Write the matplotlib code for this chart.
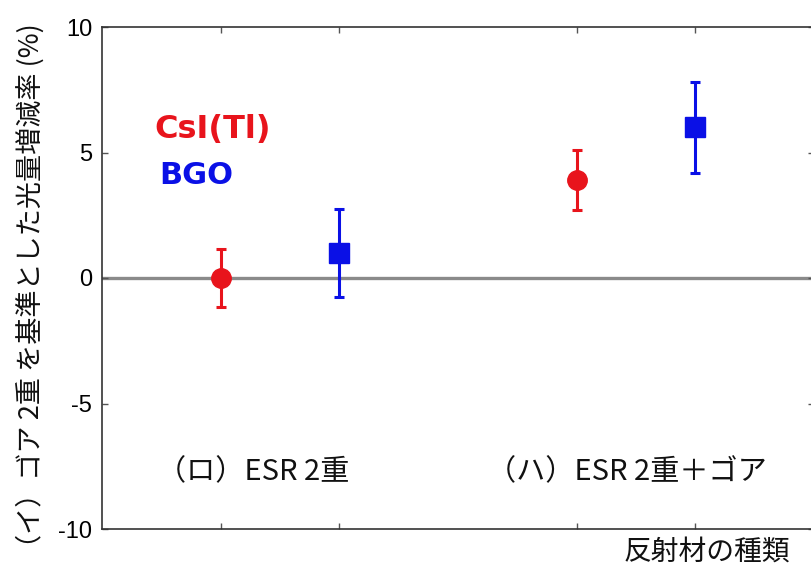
import matplotlib
matplotlib.use("Agg")
import matplotlib.pyplot as plt

plt.rcParams['font.family'] = ['Noto Sans CJK JP', 'DejaVu Sans']

# Light-yield change relative to reference (イ) ゴア 2重, in percent
groups = ["（ロ）ESR 2重", "（ハ）ESR 2重＋ゴア"]
csi_values = [0.0, 3.9]
csi_errors = [1.15, 1.2]
bgo_values = [1.0, 6.0]
bgo_errors = [1.75, 1.82]
yticks = [-10, -5, 0, 5, 10]

RED = "#e8141c"
BLUE = "#0a10e6"

fig = plt.figure(figsize=(8.12, 5.68), dpi=100)
ax = fig.add_axes([102 / 812, 1 - 529 / 568, 712 / 812, 502 / 568])

group_centers = [1.5, 4.5]
offset = 0.5
csi_x = [c - offset for c in group_centers]
bgo_x = [c + offset for c in group_centers]

ax.axhline(0, color="#8a8a8a", lw=2.4, zorder=1)

ax.errorbar(csi_x, csi_values, yerr=csi_errors, fmt="o", color=RED,
            ms=14, elinewidth=2.2, capsize=3.5, capthick=2.2, zorder=3)
ax.errorbar(bgo_x, bgo_values, yerr=bgo_errors, fmt="s", color=BLUE,
            ms=15, elinewidth=2.2, capsize=3.5, capthick=2.2, zorder=3)

ax.set_xlim(0, 6)
ax.set_ylim(-10, 10)
ax.set_yticks(yticks)
ax.set_yticklabels([str(t) for t in yticks], family="Liberation Sans", fontsize=17)
ax.set_xticks(csi_x + bgo_x)
ax.set_xticklabels([])
ax.tick_params(direction="in", length=4, width=1, color="#555555",
               top=True, right=True, pad=7)
for s in ax.spines.values():
    s.set_color("#333333")
    s.set_linewidth(1.2)

label_x = [1.27, 4.42]
for x, label in zip(label_x, groups):
    ax.text(x, -7.75, label, ha="center", va="center",
            fontsize=21, color="#111111")

ax.text(0.44, 5.9, "CsI(Tl)", color=RED, fontsize=23, fontweight="bold",
        family="DejaVu Sans", ha="left", va="center")
ax.text(0.48, 4.1, "BGO", color=BLUE, fontsize=22, fontweight="bold",
        family="DejaVu Sans", ha="left", va="center")

fig.text(30 / 812, 1 - 292 / 568, "（イ）ゴア 2重 を基準とした光量増減率 (%)",
         rotation=90, ha="center", va="center", fontsize=19.5, color="#111111")
fig.text(790 / 812, 1 - 552 / 568, "反射材の種類", ha="right", va="center",
         fontsize=20, color="#111111")

fig.savefig("out.png", dpi=100)
